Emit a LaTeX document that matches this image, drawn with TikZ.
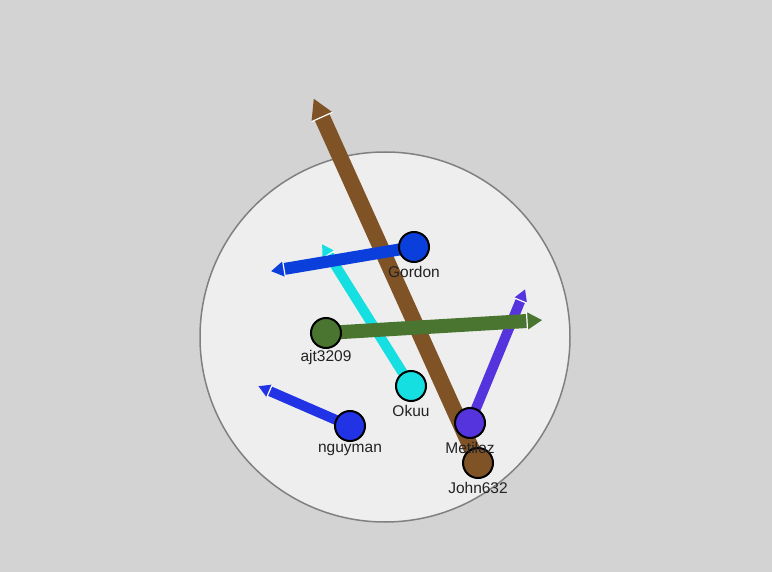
\documentclass[tikz,border=0pt]{standalone}
\usepackage{fontspec}
\setmainfont{Liberation Sans}
\usetikzlibrary{calc}
\definecolor{bg}{HTML}{D3D3D3}
\definecolor{disc}{HTML}{EEEEEE}
\definecolor{cbrown}{HTML}{7F5326}
\definecolor{cgordon}{HTML}{0A3FDC}
\definecolor{cgreen}{HTML}{4A7530}
\definecolor{ccyan}{HTML}{15DFE0}
\definecolor{cpurple}{HTML}{5533DD}
\definecolor{cnguy}{HTML}{2233E6}
\definecolor{labelc}{HTML}{222222}
\tikzset{
  user/.style={circle, draw=black, line width=2pt, minimum size=30pt, inner sep=0pt},
  ulabel/.style={text=labelc, font=\fontsize{15.5}{18}\selectfont, inner sep=0pt},
}
% #1 start node, #2 bar end coordinate, #3 bar width, #4 head length, #5 head half width, #6 colour
\newcommand{\userarrow}[6]{%
  \draw[line width=#3pt, #6] (#1.center) -- (#2);
  \fill[#6] ($(#2)!#5pt!90:(#1.center)$) -- ($(#2)!#4pt!180:(#1.center)$) -- ($(#2)!#5pt!-90:(#1.center)$) -- cycle;
  \draw[white, line width=1.2pt] ($(#2)!#5pt!90:(#1.center)$) -- ($(#2)!#5pt!-90:(#1.center)$);
}
\begin{document}
\begin{tikzpicture}[x=1pt,y=-1pt]
\fill[bg] (0,0) rectangle (772,572);
\useasboundingbox (0,0) rectangle (772,572);
\draw[disc, fill=disc] (385,337) circle (185);
\draw[gray, line width=1.5pt] (385,337) circle (185);
% node positions
\coordinate (pG) at (414,247);
\coordinate (pA) at (326,333);
\coordinate (pO) at (411,386);
\coordinate (pN) at (350,426);
\coordinate (pM) at (470,423);
\coordinate (pJ) at (478,463);
\coordinate (eJ) at (322,117);
\coordinate (eG) at (284,269);
\coordinate (eA) at (527,321);
\coordinate (eO) at (328.5,254.5);
\coordinate (eM) at (520.5,300.5);
\coordinate (eN) at (269.5,391);
\node[inner sep=0pt] (sJ) at (pJ) {};
\node[inner sep=0pt] (sG) at (pG) {};
\node[inner sep=0pt] (sA) at (pA) {};
\node[inner sep=0pt] (sO) at (pO) {};
\node[inner sep=0pt] (sM) at (pM) {};
\node[inner sep=0pt] (sN) at (pN) {};
\userarrow{sO}{eO}{10}{12}{7}{ccyan}
\userarrow{sJ}{eJ}{16}{20}{11.5}{cbrown}
\userarrow{sM}{eM}{10}{12}{7}{cpurple}
\userarrow{sA}{eA}{14}{15}{9}{cgreen}
\userarrow{sG}{eG}{12}{13}{8}{cgordon}
\userarrow{sN}{eN}{10}{12}{7}{cnguy}
% nodes
\node[user, fill=cgordon] (G) at (pG) {};
\node[user, fill=cgreen] (A) at (pA) {};
\node[user, fill=ccyan] (O) at (pO) {};
\node[user, fill=cnguy] (N) at (pN) {};
\node[user, fill=cpurple] (M) at (pM) {};
\node[user, fill=cbrown] (J) at (pJ) {};
\node[ulabel] (lG) at (414,272) {Gordon};
\node[ulabel] (lA) at (326,357) {ajt3209};
\node[ulabel] (lO) at (411,411) {Okuu};
\node[ulabel] (lN) at (350,450) {nguyman};
\node[ulabel] (lM) at (470,448) {Metiloz};
\node[ulabel] (lJ) at (478,488) {John632};
\end{tikzpicture}
\end{document}
